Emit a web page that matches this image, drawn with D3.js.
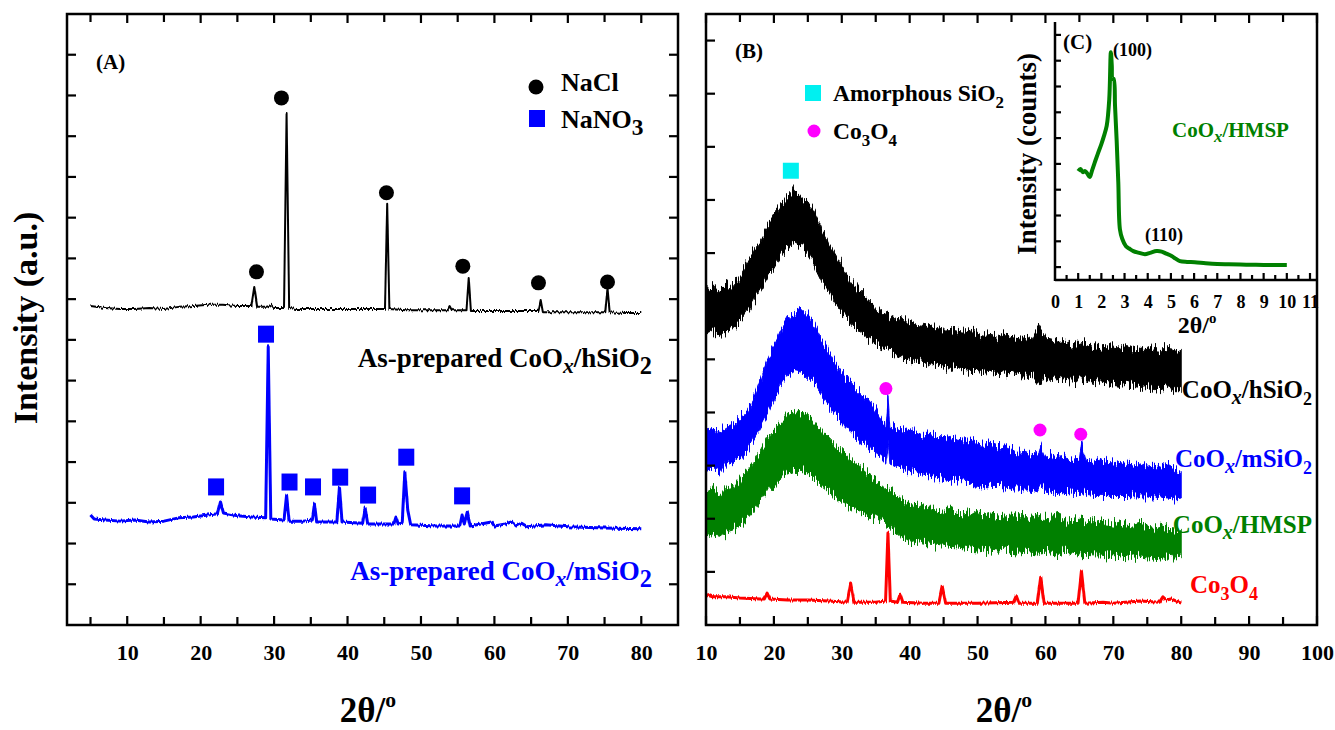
<!DOCTYPE html>
<html><head><meta charset="utf-8">
<script src="https://cdn.jsdelivr.net/npm/d3@7"></script>
<style>
body{margin:0;background:#fff}
text{font-family:"Liberation Serif","Times New Roman",serif;font-weight:bold}
</style>
</head><body>
<svg id="c" width="1335" height="730"></svg>
<script>
// ---------------- Panel A data ----------------
const aTicksX = [10,20,30,40,50,60,70,80];
const aBlackX = [5,7,9,11,13,15,17,19,21,23,25,26.9,27.3,27.7,29,29.6,30,31.35,31.7,32.05,33,36,40,44,45.1,45.4,45.7,48,51,53.6,53.9,54.2,56.2,56.5,56.8,60,63,66.0,66.3,66.6,70,73,75.1,75.4,75.7,78,80];
const aBlackY = [7.83,7.78,7.76,7.76,7.78,7.76,7.81,7.83,7.86,7.86,7.83,7.83,8.30,7.81,7.81,7.86,7.78,7.78,12.57,7.78,7.76,7.76,7.76,7.76,7.76,10.34,7.76,7.73,7.73,7.73,7.83,7.73,7.73,8.52,7.71,7.71,7.71,7.71,7.98,7.68,7.68,7.68,7.68,8.27,7.68,7.66,7.66];
const aBlueX = [5,5.5,7,9,11,13,15,17,19,21,22.3,22.7,23.1,25,27,28.85,29.2,29.55,31.35,31.7,32.05,34,35.2,35.5,35.8,38.55,38.9,39.25,42.05,42.4,42.75,46.3,46.6,46.9,47.45,47.8,48.2,48.6,52,55.3,55.6,55.9,56.3,56.7,59.6,60,61.5,62.3,63,63.7,64.5,67,70,75,80];
const aBlueY = [2.70,2.60,2.58,2.55,2.58,2.53,2.55,2.63,2.65,2.70,2.73,3.02,2.75,2.68,2.65,2.63,6.83,2.60,2.58,3.19,2.55,2.55,2.58,2.97,2.53,2.53,3.39,2.53,2.50,2.87,2.48,2.48,2.65,2.48,2.50,3.76,2.82,2.46,2.43,2.43,2.70,2.48,2.77,2.43,2.53,2.43,2.48,2.53,2.43,2.50,2.41,2.46,2.41,2.38,2.36];
const naclX = [27.6,31.0,45.3,55.7,66.0,75.4];
const naclY = [8.67,12.94,10.61,8.81,8.40,8.42];
const nano3X = [22.1,28.9,32.1,35.3,39.0,42.8,48.0,55.6];
const nano3Y = [3.39,7.14,3.51,3.39,3.63,3.19,4.12,3.17];

// ---------------- Panel B data ----------------
const bTicksX = [10,20,30,40,50,60,70,80,90,100];
const bGridX = [10,11,12,13,14,15,16,17,18,19,20,21,22,23,24,25,26,27,28,29,30,31,32,33,34,35,36,37,38,39,40,41,42,43,44,45,46,47,48,49,50,51,52,53,54,55,56,57,58,59,60,61,62,63,64,65,66,67,68,69,70,71,72,73,74,75,76,77,78,79,80];
const hSiO2Hi = [6.30,6.41,6.24,6.37,6.41,6.56,6.79,7.05,7.24,7.50,7.73,7.91,8.06,8.18,8.06,7.95,7.73,7.46,7.20,6.97,6.75,6.54,6.37,6.22,6.11,6.00,5.90,5.83,5.77,5.71,5.70,5.64,5.62,5.66,5.58,5.55,5.56,5.53,5.51,5.55,5.49,5.45,5.47,5.43,5.49,5.41,5.39,5.43,5.38,5.62,5.39,5.36,5.32,5.34,5.30,5.28,5.32,5.26,5.24,5.28,5.23,5.21,5.24,5.19,5.17,5.21,5.15,5.13,5.26,5.11,5.17];
const hSiO2Lo = [5.49,5.55,5.43,5.53,5.60,5.70,5.88,6.11,6.30,6.52,6.71,6.94,7.11,7.20,7.12,6.95,6.75,6.48,6.28,6.07,5.90,5.75,5.60,5.49,5.39,5.30,5.23,5.15,5.09,5.04,4.98,4.96,4.92,4.89,4.91,4.87,4.83,4.85,4.81,4.79,4.79,4.76,4.78,4.74,4.72,4.76,4.70,4.68,4.72,4.51,4.66,4.64,4.66,4.62,4.61,4.59,4.61,4.57,4.55,4.57,4.53,4.51,4.53,4.49,4.47,4.49,4.45,4.43,4.47,4.41,4.41];
const hmspHi = [2.48,2.54,2.44,2.58,2.61,2.73,2.88,3.06,3.29,3.52,3.67,3.80,3.93,4.00,3.97,3.93,3.82,3.67,3.53,3.40,3.25,3.14,3.05,2.95,2.84,2.76,2.65,2.54,2.46,2.35,2.29,2.26,2.22,2.24,2.16,2.14,2.18,2.12,2.11,2.14,2.09,2.07,2.11,2.05,2.07,2.09,2.03,2.05,2.01,2.07,2.01,1.99,2.03,1.97,1.99,2.01,1.95,1.94,1.97,1.92,1.90,1.94,1.88,1.86,1.90,1.84,1.82,1.86,1.80,1.79,1.75];
const hmspLo = [1.73,1.69,1.65,1.75,1.79,1.86,2.01,2.16,2.35,2.54,2.65,2.76,2.86,2.91,2.91,2.88,2.76,2.63,2.52,2.41,2.31,2.24,2.16,2.11,2.05,2.01,1.94,1.84,1.75,1.64,1.56,1.60,1.56,1.54,1.52,1.50,1.48,1.47,1.45,1.43,1.41,1.43,1.41,1.39,1.41,1.39,1.37,1.39,1.37,1.35,1.37,1.35,1.33,1.35,1.33,1.32,1.33,1.32,1.32,1.30,1.30,1.32,1.28,1.30,1.28,1.26,1.28,1.26,1.26,1.24,1.26];
const mSiO2X = [10,11,12,13,14,15,16,17,18,19,20,21,22,23,24,25,26,27,28,29,30,31,32,33,34,35,36,36.5,36.8,37.1,38,39,40,41,42,43,44,45,46,47,48,49,50,51,52,53,54,55,56,57,58,59,59.3,60,61,62,63,64,65,65.3,66,67,68,69,70,71,72,73,74,75,76,77,78,79,80];
const mSiO2Hi = [3.67,3.70,3.63,3.72,3.76,3.89,4.04,4.27,4.61,4.98,5.26,5.55,5.77,5.92,5.96,5.83,5.64,5.39,5.17,4.94,4.76,4.61,4.45,4.32,4.23,4.05,3.80,3.72,4.32,3.72,3.70,3.67,3.70,3.63,3.57,3.61,3.53,3.52,3.55,3.48,3.46,3.50,3.42,3.40,3.44,3.36,3.35,3.29,3.25,3.27,3.21,3.20,3.40,3.18,3.20,3.14,3.16,3.12,3.14,3.44,3.10,3.08,3.12,3.06,3.05,3.08,3.03,3.01,3.05,2.99,3.01,2.97,3.03,2.95,2.91];
const mSiO2Lo = [2.91,2.95,2.88,3.01,3.06,3.14,3.25,3.48,3.70,3.95,4.23,4.51,4.70,4.79,4.76,4.64,4.51,4.32,4.14,3.95,3.80,3.67,3.55,3.44,3.33,3.25,3.15,3.08,3.45,3.05,2.99,2.95,2.91,2.88,2.84,2.80,2.78,2.76,2.73,2.71,2.69,2.65,2.63,2.61,2.59,2.59,2.58,2.56,2.56,2.54,2.54,2.50,2.58,2.52,2.50,2.50,2.48,2.46,2.46,2.54,2.46,2.44,2.44,2.44,2.42,2.42,2.42,2.41,2.41,2.41,2.39,2.41,2.39,2.37,2.39];
const co3o4X = [10,10.5,11,13,15,18,18.6,19.0,19.4,22,25,28,30.8,31.3,31.8,35,36.45,36.8,37.15,38.2,38.6,39.0,42,44.3,44.8,45.3,50,55.3,55.7,56.1,58.8,59.3,59.8,64.8,65.3,65.8,68.5,70,74,76.8,77.3,77.8,78.5,80];
const co3o4Y = [0.60,0.55,0.53,0.53,0.51,0.49,0.49,0.60,0.49,0.47,0.47,0.45,0.43,0.79,0.43,0.43,0.45,1.73,0.45,0.43,0.58,0.43,0.41,0.41,0.73,0.41,0.41,0.43,0.55,0.41,0.41,0.90,0.41,0.41,1.02,0.41,0.43,0.41,0.45,0.43,0.53,0.47,0.49,0.41];
const amorphX = [22.5], amorphY = [8.55];
const co3o4MarkX = [36.5,59.2,65.2];
const co3o4MarkY = [4.45,3.67,3.59];

// ---------------- Inset C data ----------------
const cTicksX = [0,1,2,3,4,5,6,7,8,9,10,11];
const cX = [1.0,1.1,1.2,1.3,1.4,1.5,1.6,1.72,1.85,2.0,2.1,2.23,2.34,2.41,2.45,2.48,2.53,2.59,2.66,2.73,2.8,2.9,3.06,3.2,3.38,3.6,3.88,4.1,4.38,4.6,4.8,5.03,5.2,5.39,5.7,6.03,6.5,7,7.5,8,8.5,9,9.5,10];
const cY = [3.72,3.80,3.68,3.72,3.62,3.49,3.75,4.07,4.40,4.77,5.05,5.47,6.50,8.33,7.80,7.29,7.30,6.24,4.90,3.30,1.47,1.10,0.81,0.72,0.62,0.56,0.50,0.55,0.62,0.60,0.52,0.43,0.33,0.23,0.20,0.19,0.15,0.12,0.11,0.10,0.09,0.08,0.08,0.08];

// ---------------- drawing ----------------
const svg = d3.select('#c');
const zip = (xs, ys) => xs.map((x, i) => ({x, y: ys[i]}));

// visual texture for the dense noisy XRD bands
const defs = svg.append('defs');
const flt = defs.append('filter').attr('id', 'hair')
  .attr('x', '-2%').attr('y', '-15%').attr('width', '104%').attr('height', '130%');
flt.append('feTurbulence').attr('type', 'fractalNoise').attr('baseFrequency', '0.9 0.03')
  .attr('numOctaves', 2).attr('seed', 3).attr('result', 'n');
flt.append('feColorMatrix').attr('in', 'n').attr('type', 'matrix')
  .attr('values', '0 0 0 0 0.5  0 1 0 0 0  0 0 0 0 0  0 0 0 0 1').attr('result', 'm');
flt.append('feDisplacementMap').attr('in', 'SourceGraphic').attr('in2', 'm')
  .attr('scale', 22).attr('xChannelSelector', 'R').attr('yChannelSelector', 'G');

const flt2 = defs.append('filter').attr('id', 'fine')
  .attr('x', '-2%').attr('y', '-15%').attr('width', '104%').attr('height', '130%');
flt2.append('feTurbulence').attr('type', 'fractalNoise').attr('baseFrequency', '0.8 0.05')
  .attr('numOctaves', 1).attr('seed', 7).attr('result', 'n');
flt2.append('feColorMatrix').attr('in', 'n').attr('type', 'matrix')
  .attr('values', '0 0 0 0 0.5  0 1 0 0 0  0 0 0 0 0  0 0 0 0 1').attr('result', 'm');
flt2.append('feDisplacementMap').attr('in', 'SourceGraphic').attr('in2', 'm')
  .attr('scale', 5).attr('xChannelSelector', 'R').attr('yChannelSelector', 'G');

function rich(g, x, y, parts, size, color, anchor) {
  const t = g.append('text').attr('x', x).attr('y', y).attr('font-size', size)
    .attr('fill', color).attr('text-anchor', anchor || 'start');
  let shift = 0;
  parts.forEach(p => {
    const [str, kind] = p;
    const s = t.append('tspan').text(str);
    let target = 0, fs = size;
    if (kind === 'sub') { target = size * 0.28; fs = size * 0.72; }
    if (kind === 'subi') { target = size * 0.22; fs = size * 0.8; s.attr('font-style', 'italic'); }
    if (kind === 'sup') { target = -size * 0.42; fs = size * 0.62; }
    if (kind === 'bigsub') { target = size * 0.25; fs = size * 0.9; }
    s.attr('font-size', fs).attr('dy', target - shift);
    shift = target;
  });
  return t;
}

function frame(g, x0, x1, y0, y1) {
  g.append('rect').attr('x', x0).attr('y', y0).attr('width', x1 - x0).attr('height', y1 - y0)
    .attr('fill', 'none').attr('stroke', '#000').attr('stroke-width', 2.5);
}
function xTicks(g, scale, values, y, len, dir) {
  g.selectAll(null).data(values).enter().append('line')
    .attr('x1', d => scale(d)).attr('x2', d => scale(d))
    .attr('y1', y).attr('y2', y + dir * len)
    .attr('stroke', '#000').attr('stroke-width', 2.2);
}
function yTicks(g, scale, values, x, len, dir) {
  g.selectAll(null).data(values).enter().append('line')
    .attr('y1', d => scale(d)).attr('y2', d => scale(d))
    .attr('x1', x).attr('x2', x + dir * len)
    .attr('stroke', '#000').attr('stroke-width', 2.2);
}
function styleTickText(sel, size) {
  sel.selectAll('text').attr('font-size', size).attr('fill', '#000')
    .attr('font-family', '"Liberation Serif",serif').attr('font-weight', 'bold');
}

// ---- Panel A ----
const xA = d3.scaleLinear().domain([1.8, 85]).range([67, 678]);
const yA = d3.scaleLinear().domain([0, 15]).range([625, 14]);
const gA = svg.append('g');
const aMinor = [5,15,25,35,45,55,65,75];
const aYt = [1,2,3,4,5,6,7,8,9,10,11,12,13,14];

const lineA = d3.line().x(d => xA(d.x)).y(d => yA(d.y));
gA.append('path').datum(zip(aBlackX, aBlackY)).attr('d', lineA).attr('filter', 'url(#fine)')
  .attr('fill', 'none').attr('stroke', '#000').attr('stroke-width', 2).attr('stroke-linejoin', 'round');
gA.append('path').datum(zip(aBlueX, aBlueY)).attr('d', lineA).attr('filter', 'url(#fine)')
  .attr('fill', 'none').attr('stroke', '#0000ff').attr('stroke-width', 3).attr('stroke-linejoin', 'round');

gA.selectAll(null).data(zip(naclX, naclY)).enter().append('circle')
  .attr('cx', d => xA(d.x)).attr('cy', d => yA(d.y)).attr('r', 7.5).attr('fill', '#000');
gA.selectAll(null).data(zip(nano3X, nano3Y)).enter().append('rect')
  .attr('x', d => xA(d.x) - 8).attr('y', d => yA(d.y) - 8.5).attr('width', 16).attr('height', 17).attr('fill', '#0000ff');

frame(gA, 67, 678, 14, 625);
xTicks(gA, xA, aTicksX, 625, 9, -1);
xTicks(gA, xA, aMinor, 625, 8, -1);
xTicks(gA, xA, aTicksX, 14, 9, 1);
xTicks(gA, xA, aMinor, 14, 8, 1);
yTicks(gA, yA, aYt, 67, 9, 1);
yTicks(gA, yA, aYt, 678, 9, -1);
gA.append('g').attr('transform', 'translate(0,625)')
  .call(d3.axisBottom(xA).tickValues(aTicksX).tickSize(0).tickPadding(19).tickFormat(d3.format('d')))
  .call(g => g.select('.domain').remove())
  .call(g => styleTickText(g, 22));

gA.append('text').attr('x', 96).attr('y', 69).attr('font-size', 21).text('(A)');
gA.append('circle').attr('cx', 536).attr('cy', 87).attr('r', 7.5).attr('fill', '#000');
gA.append('text').attr('x', 561).attr('y', 91).attr('font-size', 26).text('NaCl');
gA.append('rect').attr('x', 529).attr('y', 110).attr('width', 16).attr('height', 17).attr('fill', '#0000ff');
rich(gA, 561, 128, [['NaNO'], ['3', 'bigsub']], 26, '#000');
rich(gA, 652, 367, [['As-prepared CoO'], ['x', 'subi'], ['/hSiO'], ['2', 'bigsub']], 27, '#000', 'end');
rich(gA, 652, 580, [['As-prepared CoO'], ['x', 'subi'], ['/mSiO'], ['2', 'bigsub']], 27, '#0000ff', 'end');
gA.append('text').attr('transform', 'translate(37,318) rotate(-90)').attr('text-anchor', 'middle')
  .attr('font-size', 34).text('Intensity (a.u.)');
rich(gA, 368, 722, [['2θ/'], ['o', 'sup']], 35, '#000', 'middle');

// ---- Panel B ----
const xB = d3.scaleLinear().domain([10, 100]).range([706, 1317]);
const yB = d3.scaleLinear().domain([0, 11.5]).range([625, 14]);
const gB = svg.append('g');
const bMinor = [15,25,35,45,55,65,75,85,95];
const bYt = [1,2,3,4,5,6,7,8,9,10,11];

const band = (xs, hi, lo) => xs.map((x, i) => ({x, hi: hi[i], lo: lo[i]}));
const areaB = d3.area().x(d => xB(d.x)).y0(d => yB(d.lo)).y1(d => yB(d.hi));
const gBands = gB.append('g').attr('clip-path', 'url(#clipB)');
defs.append('clipPath').attr('id', 'clipB').append('rect')
  .attr('x', 707).attr('y', 15).attr('width', xB(80) - 706).attr('height', 609);
[[bGridX, hSiO2Hi, hSiO2Lo, '#000'], [mSiO2X, mSiO2Hi, mSiO2Lo, '#0000ff'], [bGridX, hmspHi, hmspLo, '#008000']]
  .forEach(([xs, hi, lo, col]) => {
    gBands.append('g').attr('filter', 'url(#hair)').append('path').datum(band(xs, hi, lo)).attr('d', areaB)
      .attr('fill', col).attr('stroke', col).attr('stroke-width', 1).attr('stroke-linejoin', 'miter');
  });
gB.append('path').datum(zip(co3o4X, co3o4Y)).attr('filter', 'url(#fine)')
  .attr('d', d3.line().x(d => xB(d.x)).y(d => yB(d.y)))
  .attr('fill', 'none').attr('stroke', '#ff0000').attr('stroke-width', 3).attr('stroke-linejoin', 'round');

gB.selectAll(null).data(zip(amorphX, amorphY)).enter().append('rect')
  .attr('x', d => xB(d.x) - 8).attr('y', d => yB(d.y) - 8).attr('width', 16).attr('height', 16).attr('fill', '#00f0f0');
gB.selectAll(null).data(zip(co3o4MarkX, co3o4MarkY)).enter().append('circle')
  .attr('cx', d => xB(d.x)).attr('cy', d => yB(d.y)).attr('r', 6.5).attr('fill', '#ff00ff');

frame(gB, 706, 1317, 14, 625);
xTicks(gB, xB, bTicksX, 625, 9, -1);
xTicks(gB, xB, bMinor, 625, 8, -1);
xTicks(gB, xB, bTicksX, 14, 9, 1);
xTicks(gB, xB, bMinor, 14, 8, 1);
yTicks(gB, yB, bYt, 706, 9, 1);
gB.append('g').attr('transform', 'translate(0,625)')
  .call(d3.axisBottom(xB).tickValues(bTicksX).tickSize(0).tickPadding(19).tickFormat(d3.format('d')))
  .call(g => g.select('.domain').remove())
  .call(g => styleTickText(g, 22));

gB.append('text').attr('x', 735).attr('y', 58).attr('font-size', 21).text('(B)');
gB.append('rect').attr('x', 805).attr('y', 85).attr('width', 16).attr('height', 16).attr('fill', '#00f0f0');
rich(gB, 833, 101, [['Amorphous SiO'], ['2', 'sub']], 23.5, '#000');
gB.append('circle').attr('cx', 814).attr('cy', 131).attr('r', 6.5).attr('fill', '#ff00ff');
rich(gB, 833, 139, [['Co'], ['3', 'sub'], ['O'], ['4', 'sub']], 23.5, '#000');

rich(gB, 1312, 398, [['CoO'], ['x', 'subi'], ['/hSiO'], ['2', 'sub']], 25, '#000', 'end');
rich(gB, 1312, 467, [['CoO'], ['x', 'subi'], ['/mSiO'], ['2', 'sub']], 25, '#0000ff', 'end');
rich(gB, 1312, 533, [['CoO'], ['x', 'subi'], ['/HMSP']], 25, '#008000', 'end');
rich(gB, 1190, 593, [['Co'], ['3', 'sub'], ['O'], ['4', 'sub']], 25, '#ff0000');
rich(gB, 1004, 722, [['2θ/'], ['o', 'sup']], 35, '#000', 'middle');

// ---- Inset C ----
const xC = d3.scaleLinear().domain([0, 11]).range([1055, 1310]);
const yC = d3.scaleLinear().domain([-0.5, 9.5]).range([280, 22]);
const gC = svg.append('g');
const cMinor = [0.5,1.5,2.5,3.5,4.5,5.5,6.5,7.5,8.5,9.5,10.5];
const cYt = [0,1,2,3,4,5,6,7,8,9];
gC.append('path').datum(zip(cX, cY))
  .attr('d', d3.line().curve(d3.curveCatmullRom.alpha(0.5)).x(d => xC(d.x)).y(d => yC(d.y)))
  .attr('fill', 'none').attr('stroke', '#008000').attr('stroke-width', 4).attr('stroke-linejoin', 'round');
gC.append('line').attr('x1', 1055).attr('x2', 1317).attr('y1', 280).attr('y2', 280).attr('stroke', '#000').attr('stroke-width', 2.5);
gC.append('line').attr('x1', 1055).attr('x2', 1055).attr('y1', 22).attr('y2', 281).attr('stroke', '#000').attr('stroke-width', 2.5);
xTicks(gC, xC, cTicksX.slice(1), 280, 7, -1);
xTicks(gC, xC, cMinor, 280, 5, -1);
yTicks(gC, yC, cYt, 1055, 6, 1);
gC.append('g').attr('transform', 'translate(0,280)')
  .call(d3.axisBottom(xC).tickValues(cTicksX).tickSize(0).tickPadding(15).tickFormat(d3.format('d')))
  .call(g => g.select('.domain').remove())
  .call(g => styleTickText(g, 18));
gC.append('text').attr('x', 1063).attr('y', 49).attr('font-size', 21).text('(C)');
gC.append('text').attr('x', 1113).attr('y', 56).attr('font-size', 18).text('(100)');
gC.append('text').attr('x', 1145).attr('y', 241).attr('font-size', 18).text('(110)');
rich(gC, 1172, 137, [['CoO'], ['x', 'subi'], ['/HMSP']], 21, '#008000');
gC.append('text').attr('transform', 'translate(1036,154) rotate(-90)').attr('text-anchor', 'middle')
  .attr('font-size', 27).text('Intensity (counts)');
rich(gC, 1197, 333, [['2θ/'], ['o', 'sup']], 24, '#000', 'middle');
</script>
</body></html>
